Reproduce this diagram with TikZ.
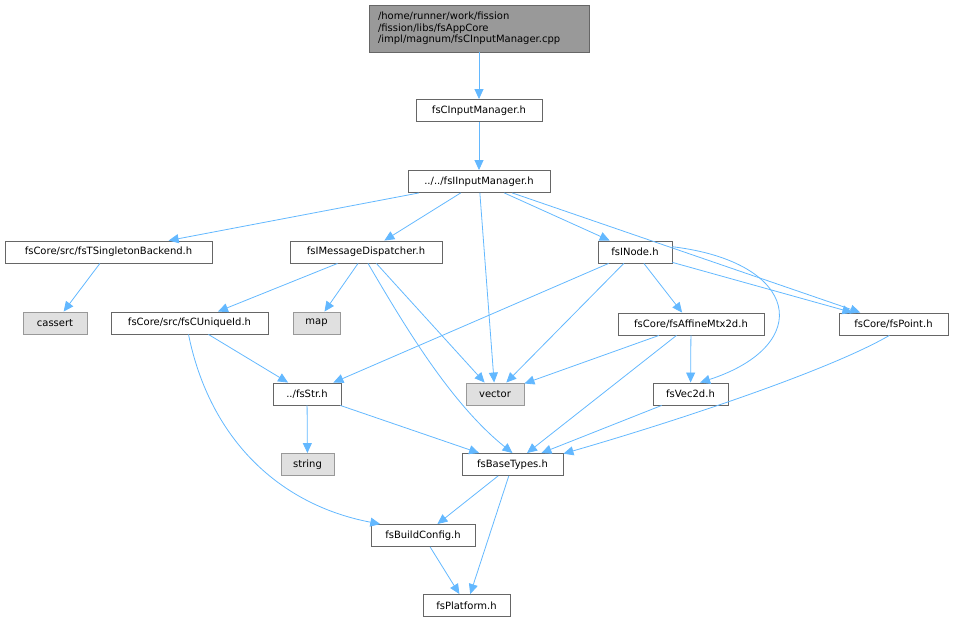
\documentclass[tikz,border=0pt]{standalone}
\usepackage{fontspec}
\setmainfont{DejaVu Sans}
\usetikzlibrary{arrows.meta}
\definecolor{edgeblue}{HTML}{63B8FF}
\definecolor{boxline}{HTML}{666666}
\definecolor{extfill}{HTML}{E0E0E0}
\definecolor{extline}{HTML}{999999}
\definecolor{topfill}{HTML}{999999}

\begin{document}
\begin{tikzpicture}[x=1pt, y=-1pt,
    every node/.style={font=\fontsize{10}{11.5}\selectfont, inner sep=0pt, minimum height=22pt},
    file/.style={draw=boxline, fill=white, line width=0.9pt},
    ext/.style={draw=extline, fill=extfill, line width=0.9pt},
    dep/.style={-{Triangle[length=10pt, width=9pt]}, color=edgeblue, line width=0.8pt}]
    \useasboundingbox (0, 0) rectangle (953, 623);

    \node [file, fill=topfill, minimum width=220, minimum height=47, text width=202, align=left] (src) at (479, 28.5) {/home/runner/work/fission\\/fission/libs/fsAppCore\\/impl/magnum/fsCInputManager.cpp};
    \node [file, minimum width=126] (cim) at (479, 110.5) {fsCInputManager.h};
    \node [file, minimum width=142] (iim) at (479, 181.5) {../../fsIInputManager.h};
    \node [file, minimum width=207] (tsb) at (108.5, 252) {fsCore/src/fsTSingletonBackend.h};
    \node [file, minimum width=152] (md) at (366, 252) {fsIMessageDispatcher.h};
    \node [file, minimum width=74] (inode) at (635, 252) {fsINode.h};
    \node [ext, minimum width=64] (cassert) at (55, 323) {cassert};
    \node [file, minimum width=157] (cuid) at (189.5, 323) {fsCore/src/fsCUniqueId.h};
    \node [ext, minimum width=47] (map) at (316.5, 323) {map};
    \node [file, minimum width=146] (affine) at (691, 324) {fsCore/fsAffineMtx2d.h};
    \node [file, minimum width=109] (point) at (893.5, 324) {fsCore/fsPoint.h};
    \node [ext, minimum width=58] (vector) at (495, 394) {vector};
    \node [file, minimum width=75] (vec) at (690.5, 394) {fsVec2d.h};
    \node [file, minimum width=68] (str) at (307, 394) {../fsStr.h};
    \node [ext, minimum width=53] (string) at (307.5, 464.5) {string};
    \node [file, minimum width=101] (base) at (512.5, 464.5) {fsBaseTypes.h};
    \node [file, minimum width=104] (build) at (423, 535.5) {fsBuildConfig.h};
    \node [file, minimum width=87] (plat) at (466.5, 605.5) {fsPlatform.h};

    \draw [dep] (src) -- (cim);
    \draw [dep] (cim) -- (iim);
    \draw [dep] (iim) -- (tsb);
    \draw [dep] (iim) -- (md);
    \draw [dep] (iim) -- (vector);
    \draw [dep] (iim) -- (inode);
    \draw [dep] (iim) -- (point);
    \draw [dep] (tsb) -- (cassert);
    \draw [dep] (md) -- (cuid);
    \draw [dep] (md) -- (map);
    \draw [dep] (md) -- (vector);
    \draw [dep] (md.-80) .. controls (403, 323) and (450, 403) .. (base.north);
    \draw [dep] (cuid.-95) .. controls (210, 440) and (280, 505) .. (build.165);
    \draw [dep] (cuid) -- (str);
    \draw [dep] (inode) -- (str);
    \draw [dep] (inode) -- (vector);
    \draw [dep] (inode) -- (affine);
    \draw [dep] (inode) -- (point);
    \draw [dep] (inode.8) .. controls (800, 262) and (815, 345) .. (vec.50);
    \draw [dep] (affine) -- (vector);
    \draw [dep] (affine) -- (vec);
    \draw [dep] (affine) -- (base);
    \draw [dep] (point.-110) .. controls (830, 370) and (680, 420) .. (base.12);
    \draw [dep] (vec) -- (base);
    \draw [dep] (str) -- (string);
    \draw [dep] (str) -- (base);
    \draw [dep] (base) -- (build);
    \draw [dep] (base) -- (plat);
    \draw [dep] (build) -- (plat);
  \end{tikzpicture}
\end{document}
